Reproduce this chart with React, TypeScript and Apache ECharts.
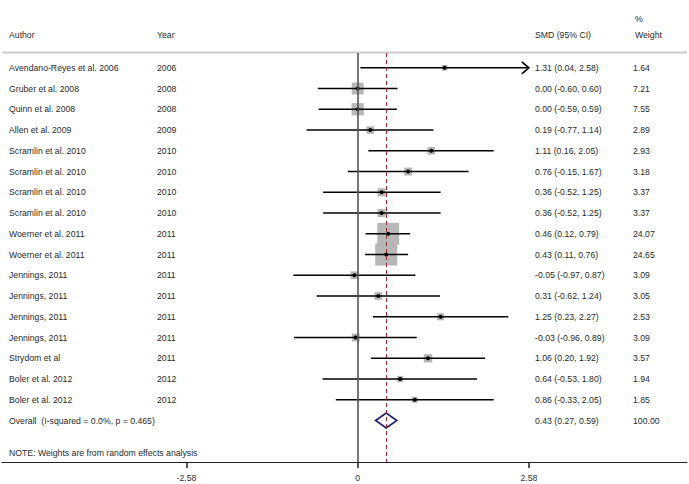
import React, { useEffect, useRef } from "react";
import * as echarts from "echarts";

const authors = [
  "Avendano-Reyes et al. 2006",
  "Gruber et al. 2008",
  "Quinn et al. 2008",
  "Allen et al. 2009",
  "Scramlin et al. 2010",
  "Scramlin et al. 2010",
  "Scramlin et al. 2010",
  "Scramlin et al. 2010",
  "Woerner et al. 2011",
  "Woerner et al. 2011",
  "Jennings, 2011",
  "Jennings, 2011",
  "Jennings, 2011",
  "Jennings, 2011",
  "Strydom et al",
  "Boler et al. 2012",
  "Boler et al. 2012",
];
const years = [
  "2006", "2008", "2008", "2009", "2010", "2010", "2010", "2010", "2011",
  "2011", "2011", "2011", "2011", "2011", "2011", "2012", "2012",
];
const smd = [1.31, 0.0, 0.0, 0.19, 1.11, 0.76, 0.36, 0.36, 0.46, 0.43, -0.05, 0.31, 1.25, -0.03, 1.06, 0.64, 0.86];
const lower = [0.04, -0.6, -0.59, -0.77, 0.16, -0.15, -0.52, -0.52, 0.12, 0.11, -0.97, -0.62, 0.23, -0.96, 0.2, -0.53, -0.33];
const upper = [2.58, 0.6, 0.59, 1.14, 2.05, 1.67, 1.25, 1.25, 0.79, 0.76, 0.87, 1.24, 2.27, 0.89, 1.92, 1.8, 2.05];
const weights = [1.64, 7.21, 7.55, 2.89, 2.93, 3.18, 3.37, 3.37, 24.07, 24.65, 3.09, 3.05, 2.53, 3.09, 3.57, 1.94, 1.85];

const overallLabel = "Overall  (I-squared = 0.0%, p = 0.465)";
const overallEst = 0.43;
const overallLo = 0.27;
const overallHi = 0.59;
const overallWeight = "100.00";

const tickValues = [-2.58, 0, 2.58];
const displayMax = 2.58;
const noteText = "NOTE: Weights are from random effects analysis";

const FONT = "'Liberation Sans', Arial, sans-serif";
const FS = 8.7;
const TXT = "#2a2a2a";
const COL_AUTHOR = 9;
const COL_YEAR = 157;
const COL_CI = 535;
const COL_W = 633;

const fmt = (v: number) => v.toFixed(2);

export default function App() {
  const ref = useRef<HTMLDivElement>(null);
  useEffect(() => {
    if (!ref.current) return;
    const chart = echarts.init(ref.current, undefined, { renderer: "svg" });

    const studyData = smd.map((v, i) => [i, v, lower[i], upper[i], weights[i]]);
    const overallRow = smd.length;

    const textEl = (x: number, y: number, text: string) => ({
      type: "text",
      x,
      y,
      style: {
        text,
        fill: TXT,
        font: `${FS}px ${FONT}`,
        textVerticalAlign: "middle",
        textAlign: "left",
      },
    });

    const option: any = {
      animation: false,
      backgroundColor: "#ffffff",
      grid: { left: 2, right: 2, top: 53, bottom: 22 },
      xAxis: {
        type: "value",
        min: -5.362,
        max: 4.964,
        axisLine: { show: true, onZero: false, lineStyle: { color: "#222", width: 1 } },
        axisTick: { show: true, customValues: tickValues, length: 6, lineStyle: { color: "#222", width: 1.5 } },
        axisLabel: {
          show: true,
          customValues: tickValues,
          margin: 11,
          color: "#333",
          fontSize: FS,
          fontFamily: FONT,
          formatter: (v: number) => (v === 0 ? "0" : v.toFixed(2)),
        },
        splitLine: { show: false },
      },
      yAxis: {
        type: "value",
        inverse: true,
        min: -0.713,
        max: 19.0,
        show: false,
      },
      graphic: [
        {
          type: "line",
          shape: { x1: 2, y1: 52.5, x2: 687, y2: 52.5 },
          style: { stroke: "#cccccc", lineWidth: 2 },
        },
        textEl(COL_AUTHOR, 35, "Author"),
        textEl(COL_YEAR, 35, "Year"),
        textEl(COL_CI, 35, "SMD (95% CI)"),
        textEl(COL_W + 2, 35, "Weight"),
        textEl(COL_W + 2, 19, "%"),
        textEl(COL_AUTHOR, 453, noteText),
      ],
      series: [
        {
          type: "custom",
          data: studyData,
          clip: false,
          renderItem: (params: any, api: any) => {
            const i = api.value(0);
            const est = api.value(1);
            const lo = api.value(2);
            const hi = api.value(3);
            const w = api.value(4);
            const c = api.coord([est, i]);
            const y = c[1];
            const xLo = api.coord([lo, i])[0];
            const arrow = hi >= displayMax;
            const xHi = api.coord([Math.min(hi, displayMax), i])[0];
            const side = 4.45 * Math.sqrt(w);
            const children: any[] = [
              {
                type: "rect",
                shape: { x: c[0] - side / 2, y: y - side / 2, width: side, height: side },
                style: { fill: "#b7b7b7" },
              },
              {
                type: "line",
                shape: { x1: xLo, y1: y, x2: xHi, y2: y },
                style: { stroke: "#000", lineWidth: 1.6 },
              },
              {
                type: "circle",
                shape: { cx: c[0], cy: y, r: 2 },
                style: { fill: "#000" },
              },
              textEl(COL_AUTHOR, y, authors[i]),
              textEl(COL_YEAR, y, years[i]),
              textEl(COL_CI, y, `${fmt(est)} (${fmt(lo)}, ${fmt(hi)})`),
              textEl(COL_W, y, fmt(w)),
            ];
            if (arrow) {
              children.push({
                type: "polyline",
                shape: { points: [[xHi - 7, y - 6], [xHi, y], [xHi - 7, y + 6]] },
                style: { stroke: "#000", lineWidth: 1.6, fill: "none" },
              });
            }
            return { type: "group", children };
          },
          markLine: {
            silent: true,
            symbol: "none",
            label: { show: false },
            data: [
              { xAxis: 0, lineStyle: { color: "#555", width: 1.6, type: "solid" } },
              { xAxis: overallEst, lineStyle: { color: "#9b2a2a", width: 1, type: [4, 3] } },
            ],
          },
        },
        {
          type: "custom",
          data: [[overallRow, overallEst, overallLo, overallHi]],
          clip: false,
          renderItem: (params: any, api: any) => {
            const i = api.value(0);
            const c = api.coord([api.value(1), i]);
            const lo = api.coord([api.value(2), i]);
            const hi = api.coord([api.value(3), i]);
            const y = c[1];
            const h = 7.5;
            return {
              type: "group",
              children: [
                {
                  type: "polygon",
                  shape: { points: [[lo[0], y], [c[0], y - h], [hi[0], y], [c[0], y + h]] },
                  style: { fill: "#ffffff", stroke: "#1c1c78", lineWidth: 1.6 },
                },
                textEl(COL_AUTHOR, y, overallLabel),
                textEl(COL_CI, y, `${fmt(api.value(1))} (${fmt(api.value(2))}, ${fmt(api.value(3))})`),
                textEl(COL_W, y, overallWeight),
              ],
            };
          },
          z: 3,
        },
      ],
    };
    chart.setOption(option);
    return () => chart.dispose();
  }, []);
  return (
    <div
      ref={ref}
      style={{ position: "absolute", left: 0, top: 0, width: 689, height: 484 }}
    />
  );
}
